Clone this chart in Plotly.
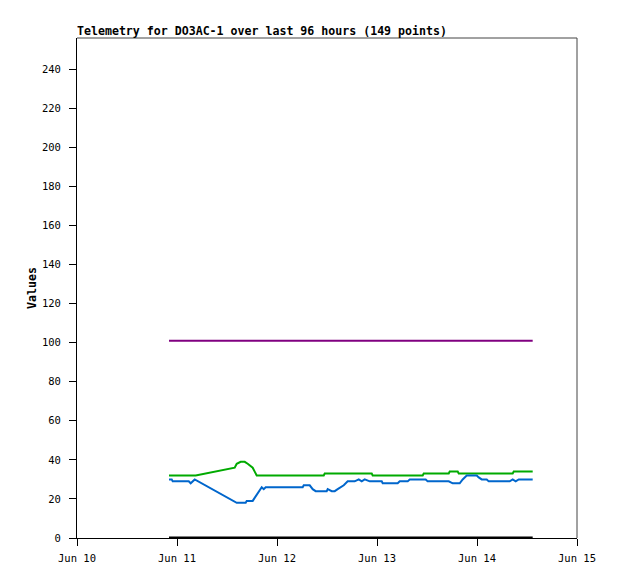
import plotly.graph_objects as go

# ---- data ----
blue_times = [
    "2024-06-10 22:05", "2024-06-10 22:44", "2024-06-10 22:58",
    "2024-06-11 02:49", "2024-06-11 03:17", "2024-06-11 04:15",
    "2024-06-11 14:20", "2024-06-11 16:29", "2024-06-11 16:44",
    "2024-06-11 18:10", "2024-06-11 20:20", "2024-06-11 20:49",
    "2024-06-11 21:17", "2024-06-12 06:10", "2024-06-12 06:25",
    "2024-06-12 07:51", "2024-06-12 08:34", "2024-06-12 09:17",
    "2024-06-12 11:56", "2024-06-12 12:10", "2024-06-12 13:08",
    "2024-06-12 13:51", "2024-06-12 14:34", "2024-06-12 15:17",
    "2024-06-12 16:01", "2024-06-12 16:58", "2024-06-12 18:39",
    "2024-06-12 19:37", "2024-06-12 20:20", "2024-06-12 21:03",
    "2024-06-12 22:15", "2024-06-13 01:08", "2024-06-13 01:22",
    "2024-06-13 04:58", "2024-06-13 05:27", "2024-06-13 07:22",
    "2024-06-13 07:51", "2024-06-13 11:41", "2024-06-13 12:10",
    "2024-06-13 17:13", "2024-06-13 18:10", "2024-06-13 19:51",
    "2024-06-13 20:34", "2024-06-13 21:32", "2024-06-13 23:56",
    "2024-06-14 00:25", "2024-06-14 01:08", "2024-06-14 02:20",
    "2024-06-14 02:49", "2024-06-14 07:51", "2024-06-14 08:34",
    "2024-06-14 09:17", "2024-06-14 10:01", "2024-06-14 13:22",
]
blue_values = [
    30, 30, 29,
    29, 28, 30,
    18, 18, 19,
    19, 26, 25,
    26, 26, 27,
    27, 25, 24,
    24, 25, 24,
    24, 25, 26,
    27, 29, 29,
    30, 29, 30,
    29, 29, 28,
    28, 29, 29,
    30, 30, 29,
    29, 28, 28,
    30, 32, 32,
    31, 30, 30,
    29, 29, 30,
    29, 30, 30,
]

green_times = [
    "2024-06-10 22:05", "2024-06-11 04:29", "2024-06-11 13:51",
    "2024-06-11 14:20", "2024-06-11 15:17", "2024-06-11 16:15",
    "2024-06-11 16:58", "2024-06-11 17:41", "2024-06-11 18:10",
    "2024-06-11 18:39", "2024-06-11 19:08", "2024-06-12 11:13",
    "2024-06-12 11:27", "2024-06-12 22:44", "2024-06-12 22:58",
    "2024-06-13 10:58", "2024-06-13 11:13", "2024-06-13 17:13",
    "2024-06-13 17:27", "2024-06-13 19:22", "2024-06-13 19:37",
    "2024-06-14 08:34", "2024-06-14 08:49", "2024-06-14 13:22",
]
green_values = [
    32, 32, 36,
    38, 39, 39,
    38, 37, 36,
    34, 32, 32,
    33, 33, 32,
    32, 33, 33,
    34, 34, 33,
    33, 34, 34,
]

purple_times = ["2024-06-10 22:05", "2024-06-14 13:22"]
purple_values = [101, 101]

black_times = ["2024-06-10 22:05", "2024-06-14 13:22"]
black_values = [0, 0]

y_ticks = [0, 20, 40, 60, 80, 100, 120, 140, 160, 180, 200, 220, 240]
x_ticks = ["2024-06-10", "2024-06-11", "2024-06-12", "2024-06-13", "2024-06-14", "2024-06-15"]
x_tick_labels = ["Jun 10", "Jun 11", "Jun 12", "Jun 13", "Jun 14", "Jun 15"]

FONT = "DejaVu Sans Mono"

fig = go.Figure()
fig.add_trace(go.Scatter(x=purple_times, y=purple_values, mode="lines",
                         line=dict(color="#800080", width=2)))
fig.add_trace(go.Scatter(x=green_times, y=green_values, mode="lines",
                         line=dict(color="#00AA00", width=2)))
fig.add_trace(go.Scatter(x=blue_times, y=blue_values, mode="lines",
                         line=dict(color="#0066CC", width=2)))
fig.add_trace(go.Scatter(x=black_times, y=black_values, mode="lines",
                         line=dict(color="#000000", width=3)))

fig.update_layout(
    width=618, height=579,
    margin=dict(l=69, r=49, t=30, b=49),
    paper_bgcolor="white", plot_bgcolor="white",
    showlegend=False,
    font=dict(family=FONT, size=10, color="black"),
    title=dict(text="<b>Telemetry for DO3AC-1 over last 96 hours (149 points)</b>",
               font=dict(family=FONT, size=11.6, color="black"),
               xref="paper", x=0, xanchor="left",
               yref="container", y=1 - 23 / 579, yanchor="middle"),
    xaxis=dict(range=["2024-06-10", "2024-06-15"], tickmode="array",
               tickvals=x_ticks, ticktext=x_tick_labels,
               showgrid=False, zeroline=False, showline=True,
               linecolor="black", linewidth=1, ticks="outside",
               ticklen=7, tickcolor="black", tickwidth=1,
               ticklabelstandoff=3,
               tickfont=dict(family=FONT, size=10.5)),
    yaxis=dict(range=[0, 256], tickmode="array", tickvals=y_ticks,
               showgrid=False, zeroline=False, showline=True,
               linecolor="black", linewidth=1, ticks="outside",
               ticklen=7, tickcolor="black", tickwidth=1,
               ticklabelstandoff=6,
               tickfont=dict(family=FONT, size=10.5),
               title=dict(text="<b>Values</b>", standoff=2,
                          font=dict(family=FONT, size=11.6))),
)
fig.add_shape(type="line", xref="paper", yref="paper", x0=0, x1=1, y0=1, y1=1,
              line=dict(color="#444444", width=1))
fig.add_shape(type="line", xref="paper", yref="paper", x0=1, x1=1, y0=0, y1=1,
              line=dict(color="#444444", width=1))

fig.write_html("out.html")
